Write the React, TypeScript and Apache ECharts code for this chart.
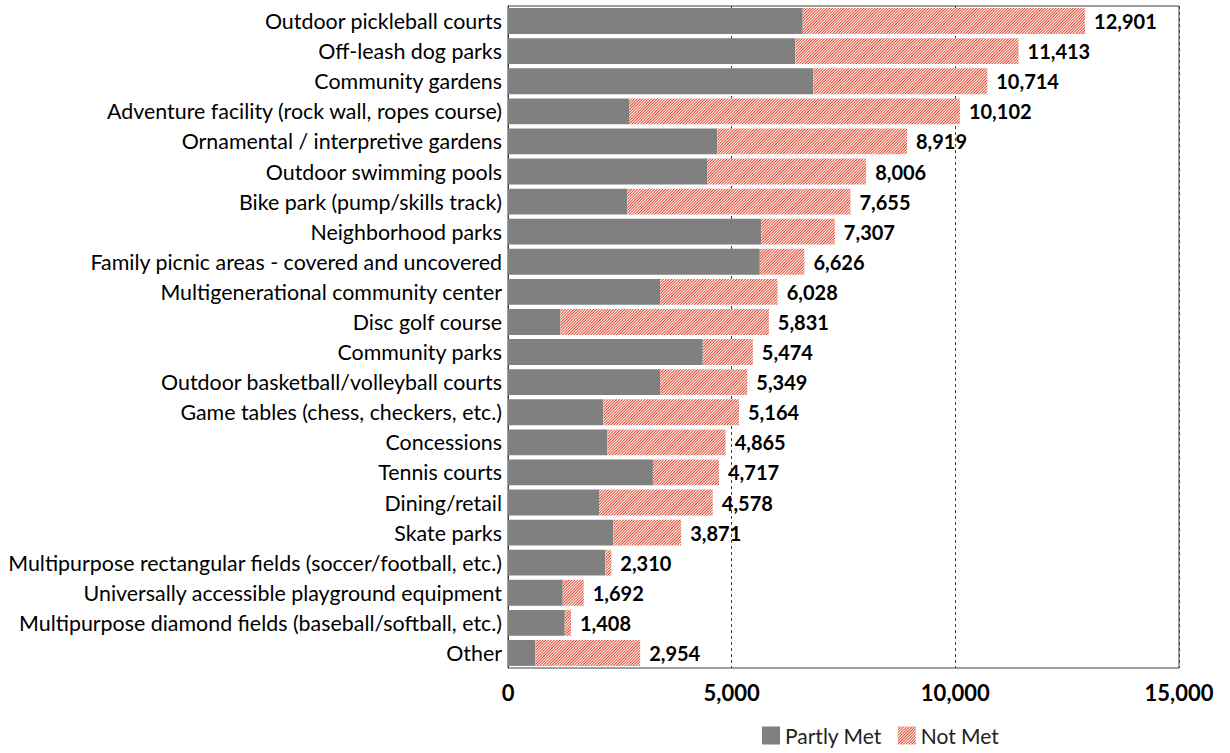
import React, { useEffect, useRef } from "react";
import * as echarts from "echarts";

const categories = [
  "Outdoor pickleball courts",
  "Off-leash dog parks",
  "Community gardens",
  "Adventure facility (rock wall, ropes course)",
  "Ornamental / interpretive gardens",
  "Outdoor swimming pools",
  "Bike park (pump/skills track)",
  "Neighborhood parks",
  "Family picnic areas - covered and uncovered",
  "Multigenerational community center",
  "Disc golf course",
  "Community parks",
  "Outdoor basketball/volleyball courts",
  "Game tables (chess, checkers, etc.)",
  "Concessions",
  "Tennis courts",
  "Dining/retail",
  "Skate parks",
  "Multipurpose rectangular fields (soccer/football, etc.)",
  "Universally accessible playground equipment",
  "Multipurpose diamond fields (baseball/softball, etc.)",
  "Other",
];

const totals = [
  12901, 11413, 10714, 10102, 8919, 8006, 7655, 7307, 6626, 6028, 5831, 5474,
  5349, 5164, 4865, 4717, 4578, 3871, 2310, 1692, 1408, 2954,
];

const partlyMet = [
  6590, 6425, 6825, 2705, 4680, 4450, 2665, 5660, 5630, 3400, 1175, 4355, 3400,
  2130, 2225, 3240, 2035, 2360, 2180, 1225, 1270, 615,
];

const notMet = totals.map((t, i) => t - partlyMet[i]);

const xTicks = { min: 0, max: 15000, interval: 5000 };

const FONT = "Lato";

export default function App() {
  const ref = useRef<HTMLDivElement>(null);
  useEffect(() => {
    if (!ref.current) return;
    const chart = echarts.init(ref.current, undefined, { renderer: "svg" });
    chart.setOption({
      animation: false,
      backgroundColor: "#ffffff",
      textStyle: { fontFamily: FONT },
      grid: {
        left: 508,
        right: 51,
        top: 6,
        bottom: 85,
        show: true,
        borderColor: "#404040",
        borderWidth: 1,
        backgroundColor: "transparent",
      },
      legend: {
        left: 757,
        bottom: 2,
        itemWidth: 18,
        itemHeight: 18,
        itemGap: 16,
        icon: "rect",
        textStyle: { fontFamily: FONT, fontSize: 21, color: "#222" },
        data: ["Partly Met", "Not Met"],
      },
      xAxis: {
        type: "value",
        min: xTicks.min,
        max: xTicks.max,
        interval: xTicks.interval,
        axisLine: { show: false },
        axisTick: { show: false },
        splitLine: {
          show: true,
          lineStyle: { color: "#404040", type: [3, 3], width: 1 },
        },
        axisLabel: {
          margin: 13,
          fontFamily: FONT,
          fontSize: 22,
          fontWeight: "bold",
          color: "#000",
          formatter: (v: number) => v.toLocaleString("en-US"),
        },
      },
      yAxis: {
        type: "category",
        data: categories,
        inverse: true,
        axisLine: { show: true, lineStyle: { color: "#404040" } },
        axisTick: { show: false },
        axisLabel: {
          fontFamily: FONT,
          fontSize: 21.4,
          color: "#000",
          margin: 6,
        },
      },
      series: [
        {
          name: "Partly Met",
          type: "bar",
          stack: "total",
          barCategoryGap: "14%",
          itemStyle: { color: "#808080" },
          data: partlyMet,
        },
        {
          name: "Not Met",
          type: "bar",
          stack: "total",
          barCategoryGap: "14%",
          itemStyle: {
            color: "#ffffff",
            decal: {
              symbol: "rect",
              symbolSize: 1,
              color: "#e0462e",
              backgroundColor: "#ffffff",
              dashArrayX: [1, 0],
              dashArrayY: [1, 1],
              rotation: -Math.PI / 4,
            },
          },
          label: {
            show: true,
            position: "right",
            distance: 9,
            fontFamily: FONT,
            fontSize: 20,
            fontWeight: "bold",
            color: "#000",
            formatter: (p: any) => totals[p.dataIndex].toLocaleString("en-US"),
          },
          data: notMet,
        },
      ],
    });
    return () => chart.dispose();
  }, []);
  return (
    <div
      ref={ref}
      style={{ position: "fixed", left: 0, top: 0, width: 1230, height: 753 }}
    />
  );
}
